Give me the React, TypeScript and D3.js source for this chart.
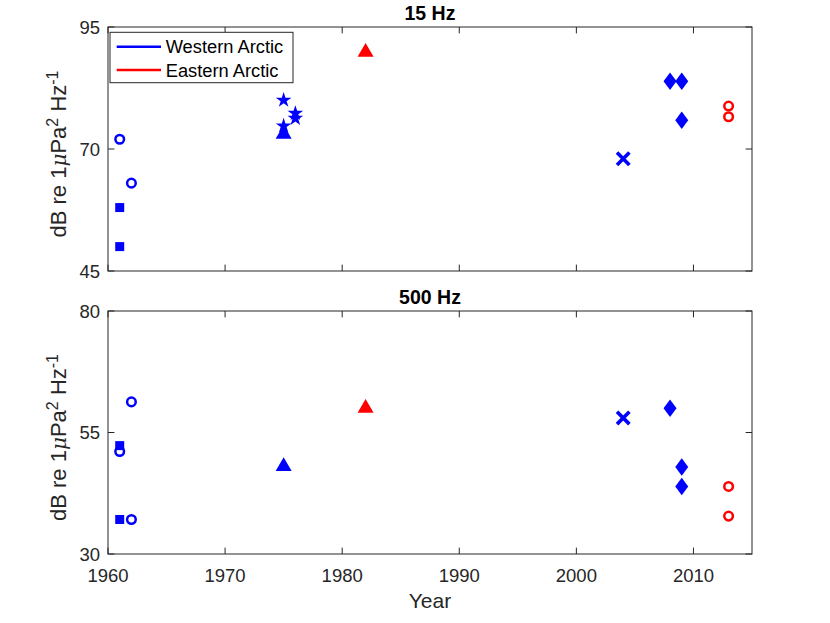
import React from "react";
import * as d3 from "d3";

// ---------- data ----------
const xTickYears = [1960, 1970, 1980, 1990, 2000, 2010];
const yTicks15 = [45, 70, 95];
const yTicks500 = [30, 55, 80];
const regionNames = ["Western Arctic", "Eastern Arctic"];
const regionColors = ["#0000ff", "#ff0000"];
const panelTitles = ["15 Hz", "500 Hz"];

// 15 Hz panel
const sqW15Year = [1961, 1961];
const sqW15Val = [58, 50];
const circW15Year = [1961, 1962];
const circW15Val = [72, 63];
const triW15Year = [1975];
const triW15Val = [73.5];
const starW15Year = [1975, 1975, 1976, 1976];
const starW15Val = [80, 74.7, 77.3, 76.3];
const triE15Year = [1982];
const triE15Val = [90.3];
const xW15Year = [2004];
const xW15Val = [68];
const diaW15Year = [2008, 2009, 2009];
const diaW15Val = [83.9, 83.9, 75.9];
const circE15Year = [2013, 2013];
const circE15Val = [78.8, 76.6];

// 500 Hz panel
const sqW500Year = [1961, 1961];
const sqW500Val = [52.3, 37.1];
const circW500Year = [1961, 1962, 1962];
const circW500Val = [51.1, 61.3, 37.1];
const triW500Year = [1975];
const triW500Val = [48.5];
const triE500Year = [1982];
const triE500Val = [60.5];
const xW500Year = [2004];
const xW500Val = [58];
const diaW500Year = [2008, 2009, 2009];
const diaW500Val = [60, 47.9, 43.9];
const circE500Year = [2013, 2013];
const circE500Val = [43.9, 37.8];

type Series = { marker: string; region: number; years: number[]; values: number[] };

const series15: Series[] = [
  { marker: "square", region: 0, years: sqW15Year, values: sqW15Val },
  { marker: "circle", region: 0, years: circW15Year, values: circW15Val },
  { marker: "triangle", region: 0, years: triW15Year, values: triW15Val },
  { marker: "star", region: 0, years: starW15Year, values: starW15Val },
  { marker: "triangle", region: 1, years: triE15Year, values: triE15Val },
  { marker: "x", region: 0, years: xW15Year, values: xW15Val },
  { marker: "diamond", region: 0, years: diaW15Year, values: diaW15Val },
  { marker: "circle", region: 1, years: circE15Year, values: circE15Val },
];
const series500: Series[] = [
  { marker: "square", region: 0, years: sqW500Year, values: sqW500Val },
  { marker: "circle", region: 0, years: circW500Year, values: circW500Val },
  { marker: "triangle", region: 0, years: triW500Year, values: triW500Val },
  { marker: "triangle", region: 1, years: triE500Year, values: triE500Val },
  { marker: "x", region: 0, years: xW500Year, values: xW500Val },
  { marker: "diamond", region: 0, years: diaW500Year, values: diaW500Val },
  { marker: "circle", region: 1, years: circE500Year, values: circE500Val },
];

// ---------- custom symbol types (size = characteristic half-extent) ----------
const symTri = {
  draw(ctx: any, s: number) {
    const hw = s, hh = s * 0.86;
    ctx.moveTo(0, -hh);
    ctx.lineTo(hw, hh);
    ctx.lineTo(-hw, hh);
    ctx.closePath();
  },
};
const symDia = {
  draw(ctx: any, s: number) {
    ctx.moveTo(0, -s * 1.35);
    ctx.lineTo(s, 0);
    ctx.lineTo(0, s * 1.35);
    ctx.lineTo(-s, 0);
    ctx.closePath();
  },
};
const symSq = {
  draw(ctx: any, s: number) {
    ctx.rect(-s, -s, 2 * s, 2 * s);
  },
};
const symStar = {
  draw(ctx: any, s: number) {
    const ri = s * 0.382;
    for (let i = 0; i < 10; i++) {
      const r = i % 2 === 0 ? s : ri;
      const a = (i * Math.PI) / 5;
      const x = r * Math.sin(a), y = -r * Math.cos(a);
      if (i === 0) ctx.moveTo(x, y);
      else ctx.lineTo(x, y);
    }
    ctx.closePath();
  },
};
const symCirc = {
  draw(ctx: any, s: number) {
    ctx.moveTo(s, 0);
    ctx.arc(0, 0, s, 0, 2 * Math.PI);
  },
};
const symX = {
  draw(ctx: any, s: number) {
    ctx.moveTo(-s, -s);
    ctx.lineTo(s, s);
    ctx.moveTo(-s, s);
    ctx.lineTo(s, -s);
  },
};

const markerDefs: Record<string, { type: any; size: number; filled: boolean; sw: number }> = {
  square: { type: symSq, size: 4.5, filled: true, sw: 0 },
  circle: { type: symCirc, size: 4.3, filled: false, sw: 2.5 },
  triangle: { type: symTri, size: 8, filled: true, sw: 0 },
  star: { type: symStar, size: 8.2, filled: true, sw: 0 },
  x: { type: symX, size: 6.2, filled: false, sw: 3.6 },
  diamond: { type: symDia, size: 6.5, filled: true, sw: 0 },
};

const W = 830, H = 623;
const FONT = "'Liberation Sans', Arial, Helvetica, sans-serif";
const AX = "#262626";
const left = 108, right = 752;
const x = d3.scaleLinear().domain([1960, 2015]).range([left, right]);

function Panel({ top, bottom, domain, yTicks, series, title, showX, legend }: any) {
  const y = d3.scaleLinear().domain(domain).range([bottom, top]);
  const tl = 6.4;
  const midY = (top + bottom) / 2;
  return (
    <g>
      <rect x={left} y={top} width={right - left} height={bottom - top} fill="#fff" stroke="none" />
      {series.map((s: Series, si: number) => {
        const def = markerDefs[s.marker];
        const path = d3.symbol().type(def.type).size(def.size)();
        const col = regionColors[s.region];
        return s.years.map((yr, i) => (
          <path
            key={`${si}-${i}`}
            d={path as string}
            transform={`translate(${x(yr)},${y(s.values[i])})`}
            fill={def.filled ? col : "none"}
            stroke={def.filled ? "none" : col}
            strokeWidth={def.sw}
          />
        ));
      })}
      {/* ticks */}
      {xTickYears.map((t) => (
        <g key={t}>
          <line x1={x(t)} x2={x(t)} y1={bottom} y2={bottom - tl} stroke={AX} strokeWidth={1} />
          <line x1={x(t)} x2={x(t)} y1={top} y2={top + tl} stroke={AX} strokeWidth={1} />
          {showX && (
            <text x={x(t)} y={bottom + 28} textAnchor="middle" fontSize={18.5} fill={AX} fontFamily={FONT}>
              {t}
            </text>
          )}
        </g>
      ))}
      {yTicks.map((t: number) => (
        <g key={t}>
          <line x1={left} x2={left + tl} y1={y(t)} y2={y(t)} stroke={AX} strokeWidth={1} />
          <line x1={right} x2={right - tl} y1={y(t)} y2={y(t)} stroke={AX} strokeWidth={1} />
          <text x={left - 8} y={y(t)} dy="0.36em" textAnchor="end" fontSize={18.5} fill={AX} fontFamily={FONT}>
            {t}
          </text>
        </g>
      ))}
      <rect x={left} y={top} width={right - left} height={bottom - top} fill="none" stroke={AX} strokeWidth={1} />
      <text x={(left + right) / 2} y={top - 7} textAnchor="middle" fontSize={19.5} fontWeight="bold" fill="#000" fontFamily={FONT}>
        {title}
      </text>
      <text
        transform={`translate(66,${midY + 5}) rotate(-90)`}
        textAnchor="middle"
        fontSize={22}
        fill={AX}
        fontFamily={FONT}
      >
        dB re 1
        <tspan fontStyle="italic" fontFamily="'DejaVu Serif', serif" fontSize={20}>μ</tspan>
        Pa
        <tspan baselineShift="super" fontSize={16}>2</tspan> Hz
        <tspan baselineShift="super" fontSize={16}>-1</tspan>
      </text>
      {legend && (
        <g>
          <rect x={110} y={32.3} width={183} height={50.4} fill="#fff" stroke={AX} strokeWidth={1} />
          {regionNames.map((n, i) => (
            <g key={n}>
              <line x1={116.7} x2={161} y1={46.7 + i * 23.3} y2={46.7 + i * 23.3} stroke={regionColors[i]} strokeWidth={2.6} />
              <text x={165.7} y={46.7 + i * 23.3} dy="0.36em" fontSize={18.3} fill="#000" fontFamily={FONT}>
                {n}
              </text>
            </g>
          ))}
        </g>
      )}
    </g>
  );
}

export default function App() {
  return (
    <div style={{ position: "absolute", left: 0, top: 0 }}>
      <svg width={W} height={H} viewBox={`0 0 ${W} ${H}`} style={{ display: "block", background: "#fff" }}>
        <rect width={W} height={H} fill="#fff" />
        <Panel top={27} bottom={271} domain={[45, 95]} yTicks={yTicks15} series={series15} title={panelTitles[0]} showX={false} legend />
        <Panel top={311} bottom={554} domain={[30, 80]} yTicks={yTicks500} series={series500} title={panelTitles[1]} showX legend={false} />
        <text x={(left + right) / 2} y={608} textAnchor="middle" fontSize={21} fill={AX} fontFamily={FONT}>
          Year
        </text>
      </svg>
    </div>
  );
}
